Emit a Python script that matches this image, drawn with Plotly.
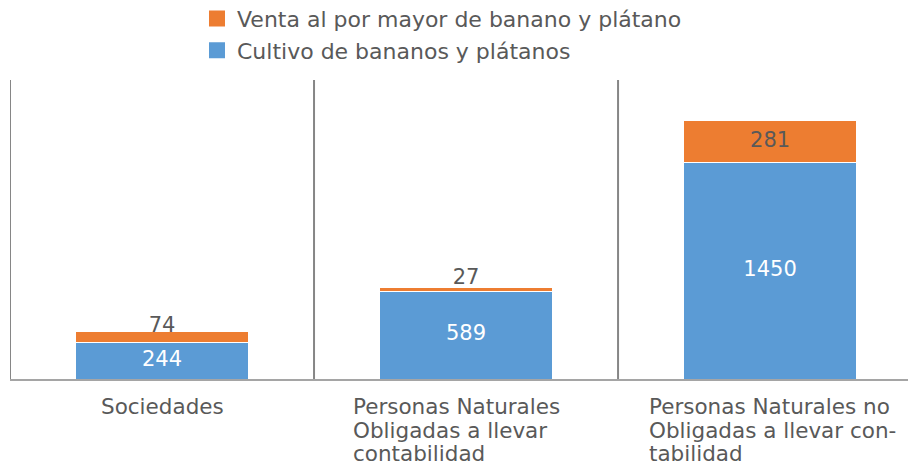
import plotly.graph_objects as go

# ---- data ----
categorias = [
    "Sociedades",
    "Personas Naturales Obligadas a llevar contabilidad",
    "Personas Naturales no Obligadas a llevar contabilidad",
]
# category label lines (as wrapped in the reference)
etiquetas = [
    ["Sociedades"],
    ["Personas Naturales", "Obligadas a llevar", "contabilidad"],
    ["Personas Naturales no", "Obligadas a llevar con-", "tabilidad"],
]
serie_cultivo = "Cultivo de bananos y plátanos"
serie_venta = "Venta al por mayor de banano y plátano"
cultivo = [244, 589, 1450]
venta = [74, 27, 281]

AZUL = "#5B9BD5"
NARANJA = "#ED7D31"
GRIS = "#595959"
FONT = "DejaVu Sans"

fig = go.Figure()

# legend entries (square swatches) - order as in reference
fig.add_trace(go.Scatter(
    x=[categorias[0]], y=[None], mode="markers", name=serie_venta,
    marker=dict(symbol="square", size=17, color=NARANJA),
))
fig.add_trace(go.Scatter(
    x=[categorias[0]], y=[None], mode="markers", name=serie_cultivo,
    marker=dict(symbol="square", size=17, color=AZUL),
))

fig.add_trace(go.Bar(
    x=categorias, y=cultivo, name=serie_cultivo,
    marker=dict(color=AZUL, line=dict(color="white", width=1)),
    width=0.57, showlegend=False, hoverinfo="skip",
))
fig.add_trace(go.Bar(
    x=categorias, y=venta, name=serie_venta,
    marker=dict(color=NARANJA, line=dict(color="white", width=1)),
    width=0.57, showlegend=False, hoverinfo="skip",
))

# data labels
fig.add_trace(go.Scatter(
    x=categorias, y=[c / 2 for c in cultivo], mode="text",
    text=[str(c) for c in cultivo], textposition="middle center",
    textfont=dict(family=FONT, size=21, color="white"),
    showlegend=False, hoverinfo="skip",
))
fig.add_trace(go.Scatter(
    x=categorias, y=[c + v / 2 for c, v in zip(cultivo, venta)], mode="text",
    text=[str(v) for v in venta],
    textposition=["top center", "top center", "middle center"],
    textfont=dict(family=FONT, size=21, color=GRIS),
    showlegend=False, hoverinfo="skip",
))

# separators between categories (and left axis)
for i in range(len(categorias)):
    fig.add_shape(type="line", xref="x", yref="paper",
                  x0=i - 0.5, x1=i - 0.5, y0=0, y1=1,
                  line=dict(color="#868686", width=2))

# category labels, one annotation per line, lines left-aligned in a block
bloque_shift = [None, -114, -122]
for cat, lineas, xs in zip(categorias, etiquetas, bloque_shift):
    for k, linea in enumerate(lineas):
        fig.add_annotation(
            x=cat, y=0, xref="x", yref="paper", text=linea, showarrow=False,
            xanchor="center" if xs is None else "left",
            xshift=0 if xs is None else xs,
            yanchor="top", yshift=-14 - 23.5 * k, borderpad=0,
            font=dict(family=FONT, size=21.5, color=GRIS))

fig.update_layout(
    width=916, height=467,
    margin=dict(l=2, r=8, t=72, b=96, autoexpand=False),
    paper_bgcolor="white", plot_bgcolor="white",
    barmode="stack", bargap=0.43,
    legend=dict(orientation="v", xref="paper", yref="paper",
                x=0.2064, xanchor="left", y=1.275, yanchor="top",
                traceorder="normal",
                font=dict(family=FONT, size=22, color=GRIS),
                bgcolor="rgba(0,0,0,0)", tracegroupgap=0,
                itemsizing="trace"),
    xaxis=dict(type="category", categoryorder="array", categoryarray=categorias,
               range=[-0.5, 2.48], showline=True, linecolor="#a5a5a5",
               linewidth=2, showticklabels=False, showgrid=False,
               zeroline=False, ticks=""),
    yaxis=dict(range=[0, 2006], showline=False, showticklabels=False,
               showgrid=False, zeroline=False, ticks=""),
)

fig.write_html("out.html")
